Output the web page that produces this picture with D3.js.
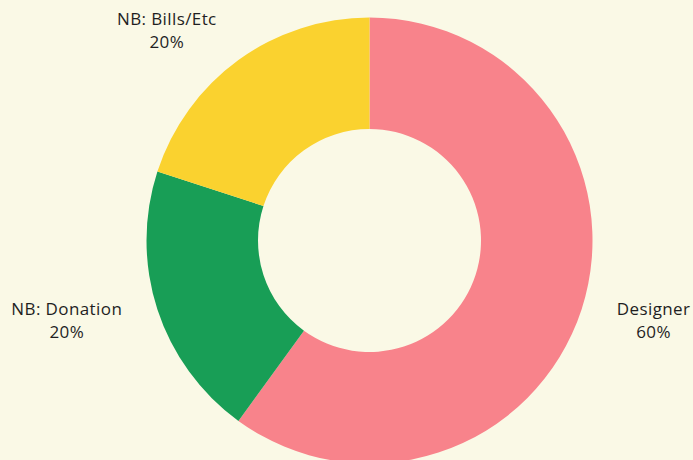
<!DOCTYPE html>
<html>
<head>
<meta charset="utf-8">
<script src="https://cdn.jsdelivr.net/npm/d3@7.9.0/dist/d3.min.js"></script>
<style>
  html, body { margin: 0; padding: 0; background: #faf9e6; }
  svg { display: block; }
  text { font-family: "Open Sans", "Noto Sans", sans-serif; font-size: 17px; letter-spacing: 0.4px; fill: #1f1f1f; }
</style>
</head>
<body>
<svg id="chart"></svg>
<script>
// data
const categories = ['Designer', 'NB: Donation', 'NB: Bills/Etc'];
const shares     = [60, 20, 20];
const colors     = ['#f8838b', '#189e56', '#fad22f'];

const width = 693, height = 460;
const cx = 369.5, cy = 240.5;
const outerR = 223, innerR = 111.5;
const labelR = 260, lineH = 23;

const svg = d3.select('#chart')
  .attr('width', width)
  .attr('height', height);

const pie = d3.pie().sort(null).value(d => d.value);
const arcs = pie(categories.map((c, i) => ({ name: c, value: shares[i], color: colors[i] })));

const arc = d3.arc().innerRadius(innerR).outerRadius(outerR);
const labelArc = d3.arc().innerRadius(labelR).outerRadius(labelR);

const g = svg.append('g').attr('transform', `translate(${cx},${cy})`);

g.selectAll('path')
  .data(arcs)
  .join('path')
    .attr('d', arc)
    .attr('fill', d => d.data.color);

/* labels: block of two centred lines, hung off the slice centroid */
const labels = g.selectAll('g.label')
  .data(arcs)
  .join('g')
    .attr('class', 'label');

labels.each(function (d) {
  const sel = d3.select(this);
  const [px, py] = labelArc.centroid(d);
  const lines = [d.data.name, d.data.value + '%'];
  const texts = sel.selectAll('text')
    .data(lines)
    .join('text')
      .attr('text-anchor', 'middle')
      .attr('y', (t, i) => i * lineH)
      .text(t => t);
  const w = d3.max(texts.nodes(), n => n.getComputedTextLength());
  const right = px > 0;
  const bx = right ? px + w / 2 : px - w / 2;
  // vertical centre of block: cap top of line 1 (~ -12) to baseline of line 2 (lineH)
  const by = py - (lineH - 12) / 2;
  sel.attr('transform', `translate(${bx},${by})`);
});
</script>
</body>
</html>
